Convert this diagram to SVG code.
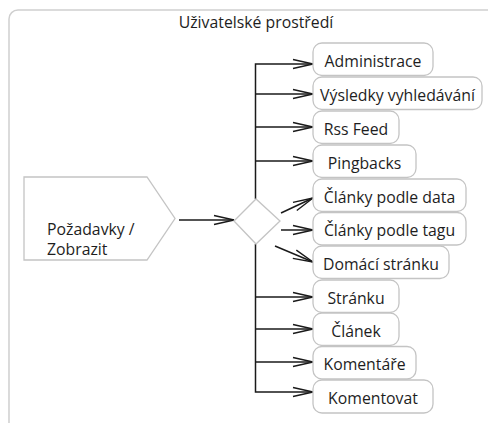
<svg xmlns="http://www.w3.org/2000/svg" width="488" height="423" viewBox="0 0 488 423">
  <style>
    .frame { fill: #ffffff; stroke: #cfcfcf; stroke-width: 1.5; }
    .node { fill: #ffffff; stroke: #c4c4c4; stroke-width: 1.3; }
    .lbl { font-family: "Open Sans", "Noto Sans", "DejaVu Sans", sans-serif; font-size: 15.8px; fill: #1e1e1e; }
    .mid { text-anchor: middle; }
    .conn { fill: none; stroke: #1a1a1a; stroke-width: 1.5; }
  </style>
  <defs>
    <marker id="open" viewBox="-22 -6 24 12" refX="0" refY="0" markerWidth="24" markerHeight="12" markerUnits="userSpaceOnUse" orient="auto">
      <path d="M -20 -4.5 L 0 0 L -20 4.5" fill="none" stroke="#1a1a1a" stroke-width="1.4"/>
    </marker>
  </defs>
  <rect width="488" height="423" fill="#ffffff"/>

  <g id="frame">
    <rect class="frame" x="9" y="10" width="520" height="440" rx="9" ry="9"/>
    <text class="lbl mid" x="256" y="28">Uživatelské prostředí</text>
  </g>

  <g id="connectors">
    <path class="conn" d="M179 220 H234" marker-end="url(#open)"/>
    <path class="conn" d="M255.5 199 V64 H313" marker-end="url(#open)"/>
    <path class="conn" d="M255.5 94 H313" marker-end="url(#open)"/>
    <path class="conn" d="M255.5 127 H313" marker-end="url(#open)"/>
    <path class="conn" d="M255.5 161 H313" marker-end="url(#open)"/>
    <path class="conn" d="M281 213 L313 198" marker-end="url(#open)"/>
    <path class="conn" d="M281 230 L313 230" marker-end="url(#open)"/>
    <path class="conn" d="M275 246 L313 262" marker-end="url(#open)"/>
    <path class="conn" d="M255.5 244 V392 H313" marker-end="url(#open)"/>
    <path class="conn" d="M255.5 297 H313" marker-end="url(#open)"/>
    <path class="conn" d="M255.5 329 H313" marker-end="url(#open)"/>
    <path class="conn" d="M255.5 362 H313" marker-end="url(#open)"/>
  </g>

  <g id="pozadavky">
    <polygon class="node" points="24,177 147,177 175,218.5 147,260 24,260"/>
    <text class="lbl" x="47" y="234.5">Požadavky /</text>
    <text class="lbl" x="47" y="254.5">Zobrazit</text>
  </g>

  <g id="decision">
    <polygon class="node" points="234,221 256,199 280,221 256,244"/>
  </g>

  <g id="administrace">
    <rect class="node" x="313" y="43" width="120" height="32.5" rx="9"/>
    <text class="lbl mid" x="373" y="66.5">Administrace</text>
  </g>
  <g id="vysledky">
    <rect class="node" x="313" y="77" width="169" height="32.5" rx="9"/>
    <text class="lbl mid" x="397.5" y="100.5">Výsledky vyhledávání</text>
  </g>
  <g id="rss">
    <rect class="node" x="313" y="111" width="86" height="32.5" rx="9"/>
    <text class="lbl mid" x="356" y="134.5">Rss Feed</text>
  </g>
  <g id="pingbacks">
    <rect class="node" x="313" y="145" width="103" height="32.5" rx="9"/>
    <text class="lbl mid" x="364.5" y="168.5">Pingbacks</text>
  </g>
  <g id="clanky-data">
    <rect class="node" x="313" y="179" width="153" height="32.5" rx="9"/>
    <text class="lbl mid" x="389.5" y="202.5">Články podle data</text>
  </g>
  <g id="clanky-tagu">
    <rect class="node" x="313" y="212.5" width="153" height="32.5" rx="9"/>
    <text class="lbl mid" x="389.5" y="236">Články podle tagu</text>
  </g>
  <g id="domaci">
    <rect class="node" x="313" y="246" width="136" height="32.5" rx="9"/>
    <text class="lbl mid" x="381" y="269.5">Domácí stránku</text>
  </g>
  <g id="stranku">
    <rect class="node" x="313" y="280" width="86" height="32.5" rx="9"/>
    <text class="lbl mid" x="356" y="303.5">Stránku</text>
  </g>
  <g id="clanek">
    <rect class="node" x="313" y="313" width="86" height="32.5" rx="9"/>
    <text class="lbl mid" x="356" y="336.5">Článek</text>
  </g>
  <g id="komentare">
    <rect class="node" x="313" y="346.5" width="103" height="32.5" rx="9"/>
    <text class="lbl mid" x="364.5" y="370">Komentáře</text>
  </g>
  <g id="komentovat">
    <rect class="node" x="313" y="380" width="120" height="33" rx="9"/>
    <text class="lbl mid" x="373" y="403.5">Komentovat</text>
  </g>
</svg>
